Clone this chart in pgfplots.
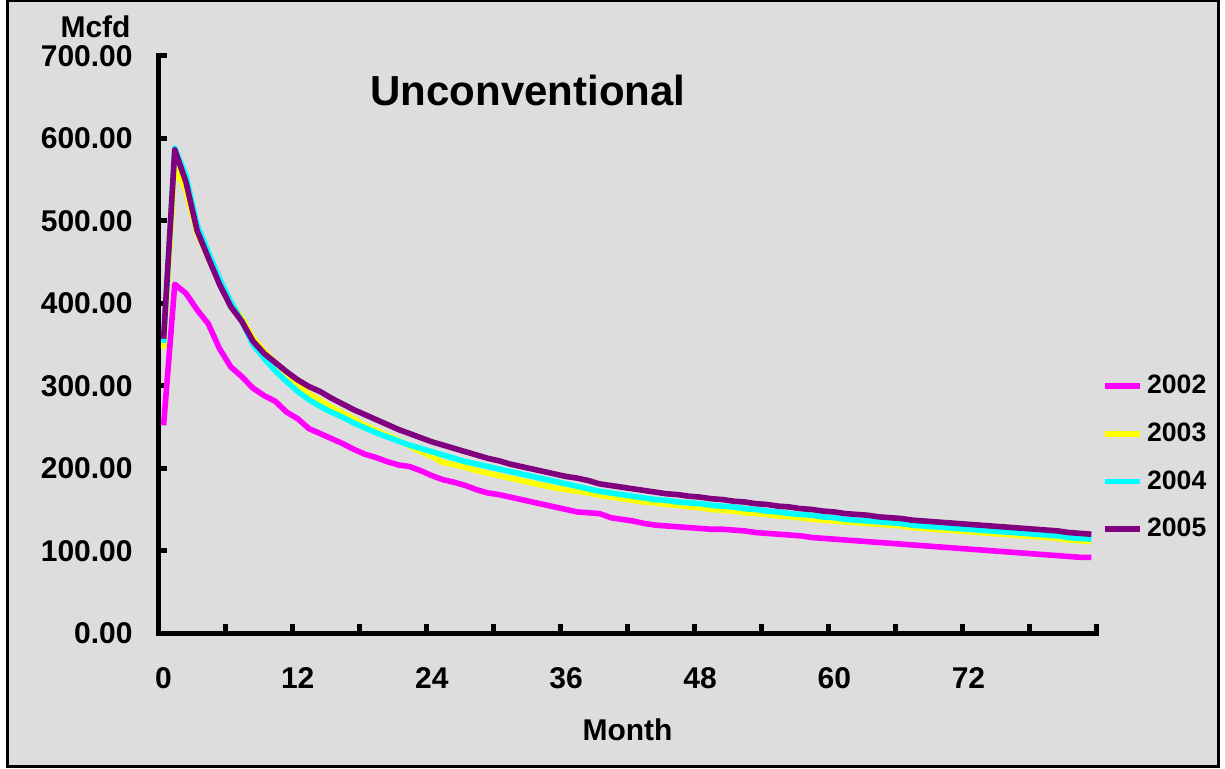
\documentclass[border=0pt]{standalone}
\usepackage{pgfplots}
\pgfplotsset{compat=1.18}
\usepackage{pgfplotstable}
\usepackage{fontspec}
\setmainfont{Liberation Sans}

\definecolor{bg}{HTML}{DDDDDD}
\definecolor{c02}{HTML}{FF00FF}
\definecolor{c03}{HTML}{FFFF00}
\definecolor{c04}{HTML}{00FFFF}
\definecolor{c05}{HTML}{800080}

\pgfplotstableread{
month y2002 y2003 y2004 y2005
0 252 345 352 357
1 423 565 588 586
2 412 537 555 547
3 392 485 495 488
4 375 455 462 455
5 345 425 430 423
6 323 400 402 396
7 311 382 378 378
8 297 358 350 354
9 288 342 333 339
10 281 328 318 328
11 268 315 305 317
12 260 302 293 307
13 248 290 283 299
14 242 282 275 293
15 236 274 268 285
16 230 267 262 278
17 223 260 255 271
18 217 252 249 265
19 213 246 243 259
20 208 240 238 253
21 204 234 233 247
22 202 227 228 242
23 197 220 224 237
24 191 214 220 232
25 186 207 216 228
26 183 204 212 224
27 179 201 208 220
28 174 197 205 216
29 170 194 202 212
30 168 191 199 209
31 165 188 196 205
32 162 185 193 202
33 159 182 190 199
34 156 179 187 196
35 153 176 184 193
36 150 174 181 190
37 147 172 178 188
38 146 170 175 185
39 145 167 172 181
40 140 165 170 179
41 138 163 168 177
42 136 161 166 175
43 133 159 164 173
44 131 158 162 171
45 130 156 161 169
46 129 155 159 168
47 128 153 158 166
48 127 152 157 165
49 126 150 155 163
50 126 149 154 162
51 125 148 153 160
52 124 146 151 159
53 122 145 150 157
54 121 144 148 156
55 120 142 147 154
56 119 141 145 153
57 118 140 144 151
58 116 138 143 150
59 115 137 141 148
60 114 136 140 147
61 113 135 138 145
62 112 134 137 144
63 111 133 136 143
64 110 132 135 141
65 109 131 134 140
66 108 130 133 139
67 107 128 131 137
68 106 127 130 136
69 105 126 129 135
70 104 125 128 134
71 103 124 127 133
72 102 123 126 132
73 101 122 125 131
74 100 121 124 130
75 99 120 123 129
76 98 119 122 128
77 97 118 121 127
78 96 117 120 126
79 95 116 119 125
80 94 115 118 124
81 93 113 116 122
82 92 112 115 121
83 92 111 114 120
}\gasdata

\begin{document}
\begin{tikzpicture}
% page frame (1px = 0.5pt)
\useasboundingbox (0,0) rectangle (612.5pt,384pt);
\fill[white] (0,0) rectangle (612.5pt,384pt);
\draw[fill=bg, line width=1.5pt] (3.5pt,1pt) rectangle (609pt,383.5pt);

\begin{axis}[
    at={(79pt,67.4pt)}, anchor=south west,
    scale only axis, width=469.5pt, height=288.75pt,
    xmin=-0.5, xmax=83.5, ymin=0, ymax=700,
    clip mode=individual,
    axis x line=bottom, axis y line=left,
    axis line style={-, line width=2.5pt, line cap=rect},
    tick align=inside, major tick length=4.5pt,
    every tick/.style={black, line width=2.5pt},
    font=\bfseries,
    ytick={0,100,...,700},
    yticklabel style={font=\fontsize{15}{18}\selectfont\bfseries, inner sep=0pt, xshift=-12.5pt,
        /pgf/number format/.cd, fixed, fixed zerofill, precision=2},
    xtick={-0.5,5.5,...,83.5}, xticklabels={},
    extra x ticks={0,12,...,72},
    extra x tick style={major tick length=0pt},
    xticklabel style={font=\fontsize{15}{18}\selectfont\bfseries, inner sep=0pt, yshift=-17pt},
    /pgf/number format/assume math mode=true,
    legend style={draw=none, fill=none, font=\fontsize{13.3}{16}\selectfont\bfseries,
        at={(axis description cs:1.0055,0.3042)}, anchor=west,
        inner xsep=0pt, row sep=9pt},
    legend cell align=left,
    legend image code/.code={\draw[#1, line width=2.8pt] (0pt,0pt) -- (17.5pt,0pt);},
    every axis plot/.append style={line width=2.8pt, line join=round},
]
\addplot[c02] table[x=month, y=y2002] {\gasdata};
\addplot[c03] table[x=month, y=y2003] {\gasdata};
\addplot[c04] table[x=month, y=y2004] {\gasdata};
\addplot[c05] table[x=month, y=y2005] {\gasdata};
\legend{2002,2003,2004,2005}

\node[anchor=base, font=\fontsize{21}{25}\selectfont\bfseries] at (axis description cs:0.394,0.913) {Unconventional};
\node[anchor=base east, inner sep=0pt, font=\fontsize{15}{18}\selectfont\bfseries] at (axis description cs:-0.0288,1.0315) {Mcfd};
\node[anchor=base, inner sep=0pt, font=\fontsize{15}{18}\selectfont\bfseries] at (axis description cs:0.5,-0.185) {Month};
\end{axis}
\end{tikzpicture}
\end{document}
